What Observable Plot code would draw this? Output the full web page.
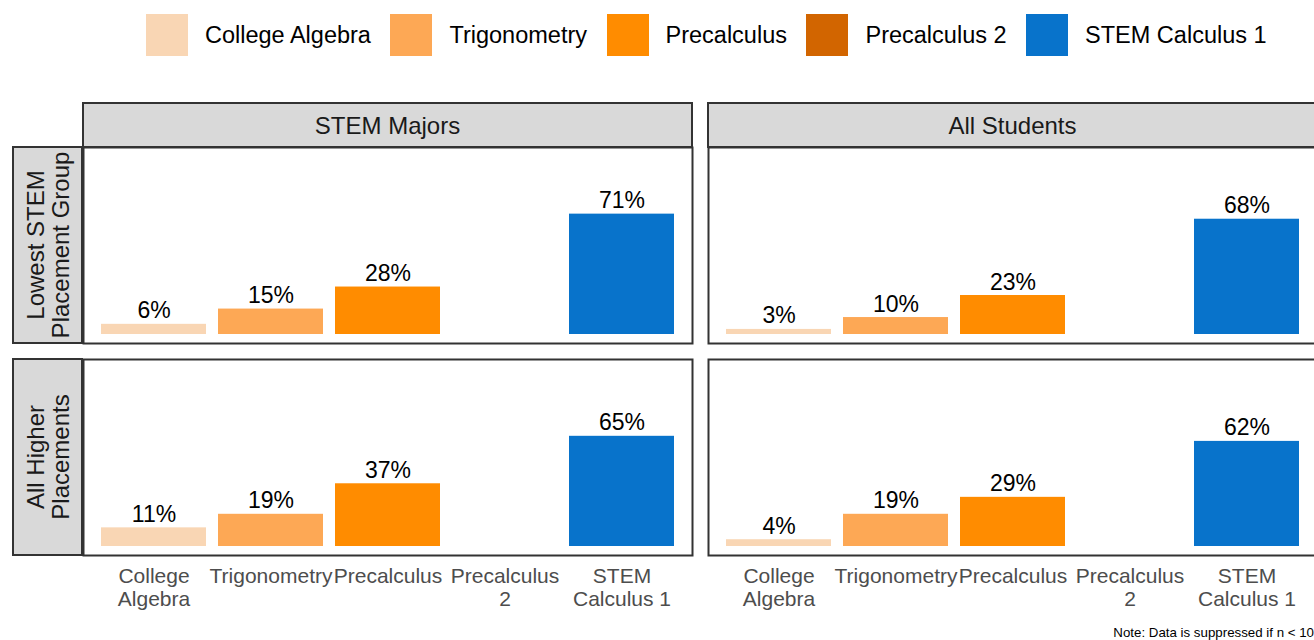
<!DOCTYPE html>
<html><head><meta charset="utf-8">
<script src="https://cdn.jsdelivr.net/npm/d3@7"></script>
<script src="https://cdn.jsdelivr.net/npm/@observablehq/plot@0.6"></script>
<style>
html,body{margin:0;padding:0;background:#fff;overflow:hidden;}
body{width:1314px;height:640px;font-family:"Liberation Sans",Arial,Helvetica,sans-serif;}
#legend{height:70px;box-sizing:border-box;padding-top:14px;padding-left:146px;}
#legend .lg-swatches{font-family:"Liberation Sans",Arial,sans-serif !important;font-size:23.5px !important;margin:0 !important;color:#000 !important;}
#legend .lg-swatches-wrap{flex-wrap:nowrap !important;min-height:42px !important;}
#legend .lg-swatch{margin-right:19.5px !important;}
#legend .lg-swatch > svg{margin-right:17px !important;}
#chart{width:1314px;height:555px;overflow:hidden;}
#note{font-size:13.3px;line-height:15px;text-align:right;width:1314px;color:#000;white-space:nowrap;}
</style></head><body>
<div id="legend"></div>
<div id="chart"></div>
<div id="note">Note: Data is suppressed if n &lt; 10</div>
<script>
const courses = ["College Algebra", "Trigonometry", "Precalculus", "Precalculus 2", "STEM Calculus 1"];
const courseTickLabels = ["College\nAlgebra", "Trigonometry", "Precalculus", "Precalculus\n2", "STEM\nCalculus 1"];
const courseColors = ["#F9D6B4", "#FDA855", "#FF8C00", "#D26500", "#0873CB"];
const groups = ["STEM Majors", "All Students"];
const placements = ["Lowest STEM Placement Group", "All Higher Placements"];
const placementStripLines = [["Lowest STEM", "Placement Group"], ["All Higher", "Placements"]];
// percent values per course (null = suppressed)
const stemMajorsLowest = [6, 15, 28, null, 71];
const stemMajorsHigher = [11, 19, 37, null, 65];
const allStudentsLowest = [3, 10, 23, null, 68];
const allStudentsHigher = [4, 19, 29, null, 62];

const series = [
  {group: groups[0], placement: placements[0], values: stemMajorsLowest},
  {group: groups[0], placement: placements[1], values: stemMajorsHigher},
  {group: groups[1], placement: placements[0], values: allStudentsLowest},
  {group: groups[1], placement: placements[1], values: allStudentsHigher}
];
const data = series.flatMap(s => courses.map((c, i) => ({group: s.group, placement: s.placement, course: c, value: s.values[i]})))
  .filter(d => d.value != null);

// Legend
const legend = Plot.legend({
  color: {domain: courses, range: courseColors},
  legend: "swatches",
  swatchSize: 42,
  className: "lg"
});
document.getElementById("legend").appendChild(legend);

const plot = Plot.plot({
  width: 1317,
  height: 555,
  marginTop: 77,
  marginLeft: 83,
  marginRight: 0,
  marginBottom: 70,
  style: {fontFamily: "'Liberation Sans', Arial, sans-serif", background: "#fff", maxWidth: "none", overflow: "visible"},
  facet: {data, x: "group", y: "placement", label: null},
  fx: {domain: groups, axis: null, paddingInner: 16 / 625, paddingOuter: 0},
  fy: {domain: placements, axis: null, paddingInner: 16 / 212, paddingOuter: 0},
  x: {domain: courses, paddingInner: 0.1, paddingOuter: 0.146},
  y: {domain: [0, 105], axis: null, insetTop: 9, insetBottom: 9},
  color: {domain: courses, range: courseColors},
  marks: [
    Plot.barY(data, {x: "course", y: "value", fill: "course"}),
    Plot.text(data, {x: "course", y: "value", text: d => `${d.value}%`, lineAnchor: "bottom", dy: -6, fontSize: 23, fill: "#000"}),
    Plot.frame({stroke: "#333", strokeWidth: 2}),
    Plot.axisX({
      tickSize: 0, tickPadding: 11,
      tickFormat: c => courseTickLabels[courses.indexOf(c)],
      fontSize: 21, color: "#4d4d4d", lineHeight: 1.1, label: null
    })
  ]
});

// Facet strips drawn from the facet scales
const svg = d3.select(plot);
const fx = plot.scale("fx"), fy = plot.scale("fy");
const topY = fy.apply(placements[0]);
const g = svg.append("g").attr("class", "strips");
groups.forEach(gp => {
  const x0 = fx.apply(gp);
  g.append("rect").attr("x", x0).attr("y", topY - 44).attr("width", fx.bandwidth).attr("height", 44)
    .attr("fill", "#d9d9d9").attr("stroke", "#333").attr("stroke-width", 2);
  g.append("text").attr("x", x0 + fx.bandwidth / 2).attr("y", topY - 22)
    .attr("text-anchor", "middle").attr("dominant-baseline", "central")
    .attr("font-size", 24).attr("fill", "#1a1a1a").text(gp);
});
placements.forEach((p, i) => {
  const y0 = fy.apply(p);
  g.append("rect").attr("x", 13).attr("y", y0).attr("width", 69).attr("height", fy.bandwidth)
    .attr("fill", "#d9d9d9").attr("stroke", "#333").attr("stroke-width", 2);
  const t = g.append("text").attr("transform", `translate(47.5,${y0 + fy.bandwidth / 2}) rotate(-90)`)
    .attr("text-anchor", "middle").attr("font-size", 24).attr("fill", "#1a1a1a");
  const lines = placementStripLines[i];
  lines.forEach((ln, k) => {
    t.append("tspan").attr("x", 0).attr("y", (k - (lines.length - 1) / 2) * 25)
      .attr("dominant-baseline", "central").text(ln);
  });
});

document.getElementById("chart").appendChild(plot);
</script>
</body></html>
